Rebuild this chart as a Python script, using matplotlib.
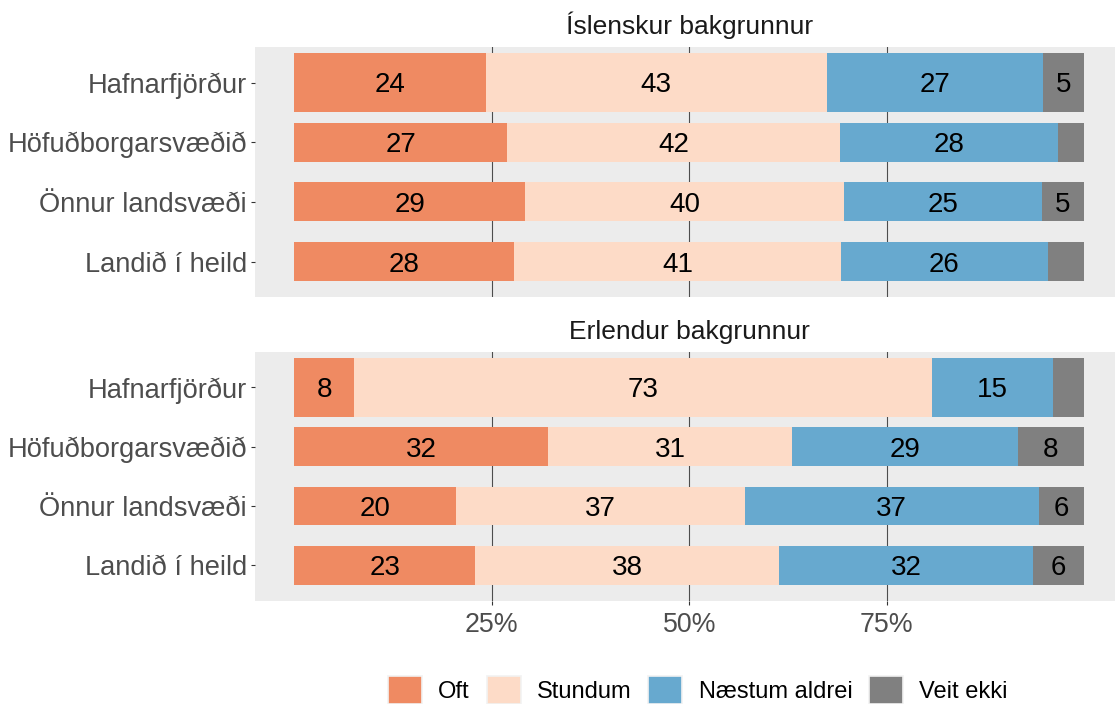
import matplotlib
import numpy as np

matplotlib.use("Agg")
import matplotlib.pyplot as plt  # noqa: E402
from matplotlib.patches import Patch  # noqa: E402

PANEL, GRIDC, TICKC, TEXTC, STRIPC = "#ececec", "#4d4d4d", "#333333", "#4d4d4d", "#1a1a1a"

plt.rcParams.update(
    {
        "font.family": ["Liberation Sans", "DejaVu Sans"],
        "axes.spines.top": False,
        "axes.spines.right": False,
        "axes.spines.left": False,
        "axes.spines.bottom": False,
    }
)

REGIONS = ["Hafnarfjörður", "Höfuðborgarsvæðið", "Önnur landsvæði", "Landið í heild"]
ANSWERS = ["Oft", "Stundum", "Næstum aldrei", "Veit ekki"]
COLORS = ["#ef8a62", "#fddbc7", "#67a9cf", "#808080"]
GROUPS = ["Íslenskur bakgrunnur", "Erlendur bakgrunnur"]

# percent per region, columns follow ANSWERS
ISLENSKUR = [
    [24.2, 43.2, 27.4, 5.2],
    [26.9, 42.2, 27.6, 3.3],
    [29.2, 40.4, 25.1, 5.3],
    [27.8, 41.4, 26.2, 4.6],
]
ERLENDUR = [
    [7.6, 73.1, 15.4, 3.9],
    [32.1, 30.9, 28.6, 8.4],
    [20.4, 36.6, 37.3, 5.7],
    [22.9, 38.4, 32.2, 6.4],
]
XTICKS = [0.25, 0.50, 0.75]
XTICKLABELS = ["25%", "50%", "75%"]

BAR_H = [1.0, 0.65, 0.65, 0.65]  # Hafnarfjörður is drawn wider


def panel(ax, data, title):
    vals = np.array(data, dtype=float)
    props = vals / vals.sum(axis=1, keepdims=True)
    ypos = np.arange(len(REGIONS))[::-1] + 1
    left = np.zeros(len(REGIONS))
    for j, (ans, col) in enumerate(zip(ANSWERS, COLORS)):
        w = props[:, j]
        ax.barh(ypos, w, left=left, height=BAR_H, color=col, linewidth=0, label=ans, zorder=2)
        for y, l, ww, v in zip(ypos, left, w, vals[:, j]):
            if v >= 5:
                ax.text(l + ww / 2, y, f"{round(v)}", ha="center", va="center_baseline",
                        fontsize=20, color="black", zorder=3)
        left = left + w
    ax.set_facecolor(PANEL)
    ax.set_xlim(-0.05, 1.05)
    ax.set_ylim(0.4, len(REGIONS) + 0.6)
    ax.set_yticks(ypos)
    ax.set_yticklabels(REGIONS, fontsize=19.6)
    ax.set_xticks(XTICKS)
    ax.grid(True, axis="x", color=GRIDC, linewidth=0.8)
    ax.grid(False, axis="y")
    ax.set_axisbelow(True)
    ax.tick_params(axis="both", length=2.75, width=0.8, color=TICKC, labelcolor=TEXTC)
    ax.tick_params(axis="y", pad=3)
    ax.tick_params(axis="x", pad=5.5, labelsize=19.3)
    ax.set_title(title, fontsize=19, color=STRIPC, pad=9)


def main():
    fig = plt.figure(figsize=(11.15, 7.04), dpi=100)
    W, H = 1115, 704
    # panels run a little past the right edge, like the source
    ax1 = fig.add_axes([255 / W, 1 - 297.3 / H, 868.5 / W, 250.6 / H])
    ax2 = fig.add_axes([255 / W, 1 - 601 / H, 868.5 / W, 249.3 / H])
    panel(ax1, ISLENSKUR, GROUPS[0])
    panel(ax2, ERLENDUR, GROUPS[1])
    ax1.set_xticklabels([])
    ax1.tick_params(axis="x", length=0)
    ax2.set_xticklabels(XTICKLABELS)

    handles = [Patch(facecolor=c, edgecolor="#f2f2f2", linewidth=1.2) for c in COLORS]
    fig.legend(
        handles,
        ANSWERS,
        loc="lower center",
        bbox_to_anchor=(0.626, 0.0),
        ncol=4,
        frameon=False,
        fontsize=17,
        handlelength=1.44,
        handleheight=1.44,
        handletextpad=0.68,
        columnspacing=0.72,
        borderpad=0.0,
        borderaxespad=0.0,
    )
    fig.savefig("out.png", dpi=100)
    plt.close(fig)


if __name__ == "__main__":
    main()
